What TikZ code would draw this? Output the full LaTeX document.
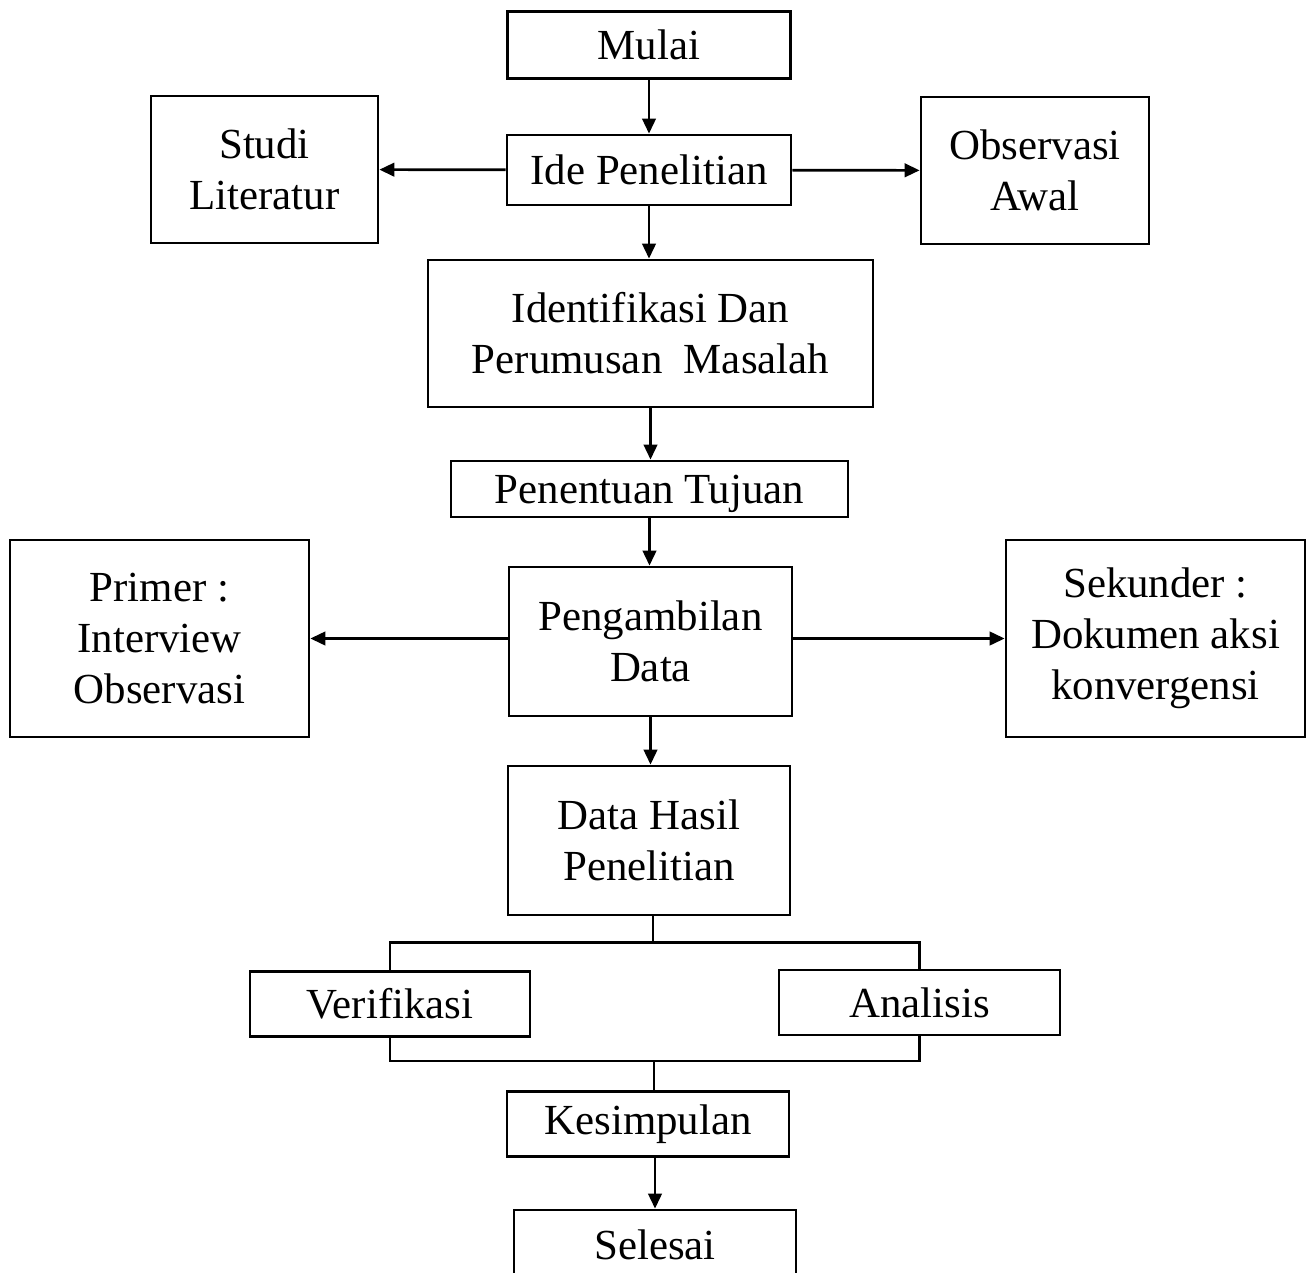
\documentclass[tikz,border=0pt]{standalone}
\usepackage{fontspec}
\setmainfont{Liberation Serif}
\usetikzlibrary{arrows.meta,calc}

\begin{document}
\begin{tikzpicture}[x=0.02cm,y=-0.02cm,
    box/.style={draw,line width=1.6pt,inner sep=0pt,align=center,font=\fontsize{24.4}{29}\selectfont},
    arr/.style={-{Triangle[length=3mm,width=2.7mm]}},
    line width=1.5pt]
    \useasboundingbox (0,0) rectangle (1307,1273);
    \node[box,minimum width=5.66cm,minimum height=1.34cm] (mulai) at (649,45) {Mulai};
    \node[box,minimum width=5.68cm,minimum height=1.40cm] (ide) at (649,170) {Ide Penelitian};
    \node[box,minimum width=4.54cm,minimum height=2.94cm] (studi) at (264.5,169.5) {Studi\\Literatur};
    \node[box,minimum width=4.56cm,minimum height=2.94cm] (obs) at (1035,170.5) {Observasi\\Awal};
    \node[box,minimum width=8.90cm,minimum height=2.94cm] (ident) at (650.5,333.5) {Identifikasi Dan\\Perumusan\ \ Masalah};
    \node[box,minimum width=7.94cm,minimum height=1.12cm,text depth=-4pt] (tujuan) at (649.5,489) {Penentuan Tujuan};
    \node[box,minimum width=5.98cm,minimum height=3.94cm] (primer) at (159.5,638.5) {Primer :\\Interview\\Observasi};
    \node[box,minimum width=5.66cm,minimum height=2.98cm] (ambil) at (650.5,641.5) {Pengambilan\\Data};
    \node[box,minimum width=5.98cm,minimum height=3.94cm] (sekunder) at (1155.5,638.5) {Sekunder :\\Dokumen aksi\\konvergensi};
    \node[box,minimum width=5.64cm,minimum height=2.98cm] (hasil) at (649,840.5) {Data Hasil\\Penelitian};
    \node[box,minimum width=5.60cm,minimum height=1.30cm] (verif) at (390,1004) {Verifikasi};
    \node[box,minimum width=5.62cm,minimum height=1.30cm] (anal) at (919.5,1002.5) {Analisis};
    \node[box,minimum width=5.64cm,minimum height=1.30cm] (kes) at (648,1124) {Kesimpulan};
    \node[box,minimum width=5.64cm,minimum height=1.40cm] (sel) at (655,1245) {Selesai};
    % alur utama
    \draw [arr] (mulai) -- (ide);
    \draw [arr] (ide.south) -- (ide.south |- ident.north);
    \draw [arr] (ide) -- (studi);
    \draw [arr] (ide) -- (obs);
    \draw [arr] (ident.south) -- (ident.south |- tujuan.north);
    \draw [arr] (tujuan.south) -- (tujuan.south |- ambil.north);
    \draw [arr] (ambil.west |- primer.east) -- (primer.east);
    \draw [arr] (ambil.east |- sekunder.west) -- (sekunder.west);
    \draw [arr] (ambil.south) -- (ambil.south |- hasil.north);
    % percabangan
    \coordinate (pisah) at ($(hasil.south)+(4,26)$);
    \coordinate (gabung) at ($(kes.north)+(6,-29)$);
    \draw (hasil.south -| pisah) -- (pisah);
    \draw (verif.north) |- (pisah) -| (anal.north);
    \draw (verif.south) |- (gabung) -| (anal.south);
    \draw (gabung) -- (kes.north -| gabung);
    \draw [arr] (kes.south -| sel.north) -- (sel.north);
\end{tikzpicture}
\end{document}
